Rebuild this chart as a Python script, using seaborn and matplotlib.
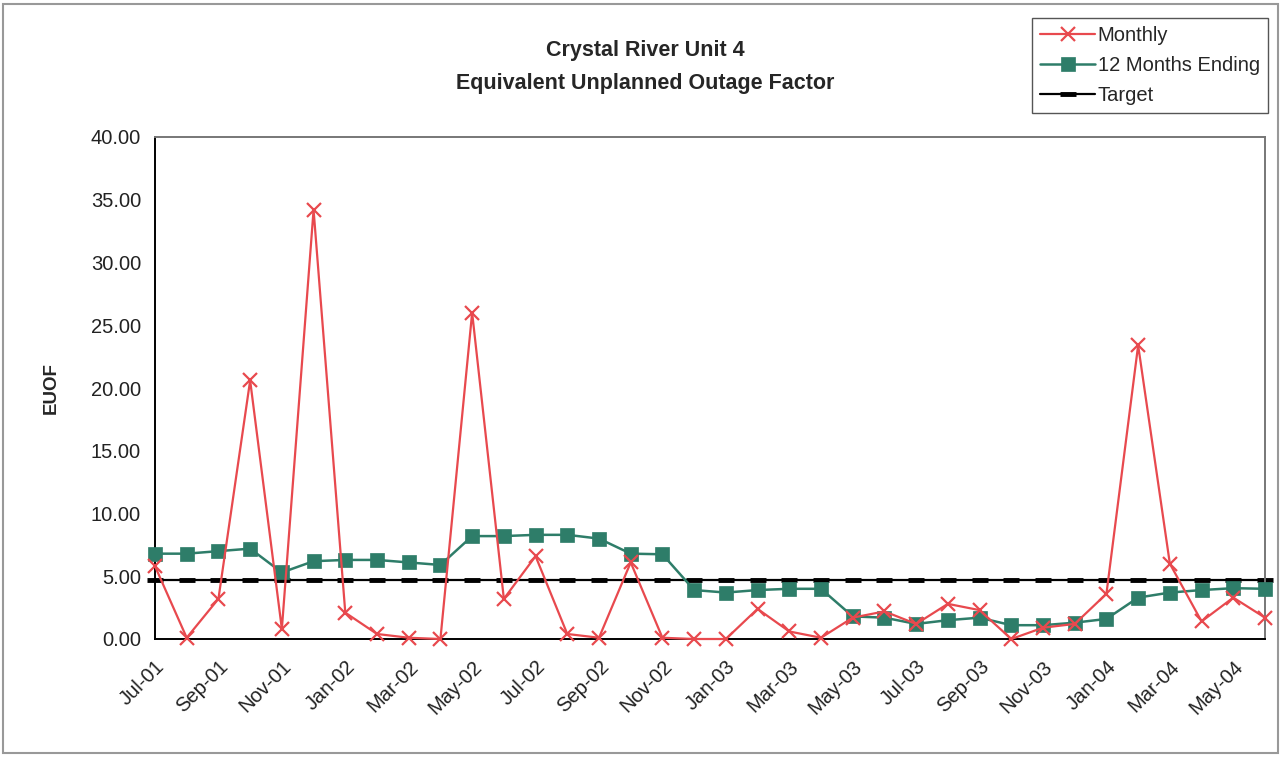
import pandas as pd
import seaborn as sns
import matplotlib.pyplot as plt
from matplotlib.patches import Rectangle
from matplotlib.ticker import FormatStrFormatter

months = ['Jul-01', 'Aug-01', 'Sep-01', 'Oct-01', 'Nov-01', 'Dec-01',
          'Jan-02', 'Feb-02', 'Mar-02', 'Apr-02', 'May-02', 'Jun-02',
          'Jul-02', 'Aug-02', 'Sep-02', 'Oct-02', 'Nov-02', 'Dec-02',
          'Jan-03', 'Feb-03', 'Mar-03', 'Apr-03', 'May-03', 'Jun-03',
          'Jul-03', 'Aug-03', 'Sep-03', 'Oct-03', 'Nov-03', 'Dec-03',
          'Jan-04', 'Feb-04', 'Mar-04', 'Apr-04', 'May-04', 'Jun-04']

monthly = [5.8, 0.1, 3.2, 20.6, 0.8, 34.2, 2.1, 0.4, 0.1, 0.0, 26.0, 3.2,
           6.6, 0.4, 0.1, 6.1, 0.1, 0.0, 0.0, 2.4, 0.6, 0.1, 1.7, 2.2,
           1.2, 2.8, 2.3, 0.0, 0.9, 1.2, 3.6, 23.4, 6.0, 1.4, 3.3, 1.7]

twelve_month = [6.8, 6.8, 7.0, 7.2, 5.3, 6.2, 6.3, 6.3, 6.1, 5.9, 8.2, 8.2,
                8.3, 8.3, 8.0, 6.8, 6.75, 3.9, 3.7, 3.9, 4.0, 4.0, 1.8, 1.7,
                1.2, 1.5, 1.7, 1.1, 1.1, 1.3, 1.6, 3.3, 3.7, 3.9, 4.05, 4.0]

target = [4.70] * len(months)

RED = '#E8494E'
GREEN = '#2E7D69'
FONTSIZE = 14.5

sns.set_style("white")
plt.rcParams['font.family'] = ['Liberation Sans', 'DejaVu Sans']

df = pd.DataFrame({'idx': range(len(months)), 'month': months,
                   'Monthly': monthly, '12 Months Ending': twelve_month,
                   'Target': target})

fig = plt.figure(figsize=(12.81, 7.58), dpi=100)
ax = fig.add_axes([155 / 1281, 1 - 639 / 758, 1110 / 1281, 502 / 758])

sns.lineplot(data=df, x='idx', y='Target', ax=ax, color='black', lw=1.6,
             marker='_', markersize=11, markeredgewidth=3.5,
             markeredgecolor='black', label='Target', zorder=2, clip_on=False)
sns.lineplot(data=df, x='idx', y='12 Months Ending', ax=ax, color=GREEN, lw=1.8,
             marker='s', markersize=10, markeredgewidth=0.5,
             markeredgecolor=GREEN, label='12 Months Ending', zorder=3,
             clip_on=False)
sns.lineplot(data=df, x='idx', y='Monthly', ax=ax, color=RED, lw=1.6,
             marker='x', markersize=10, markeredgewidth=1.6,
             markeredgecolor=RED, label='Monthly', zorder=4, clip_on=False)

ax.set_xlim(0, len(months) - 1)
ax.set_ylim(0, 40)
ax.set_yticks(range(0, 41, 5))
ax.yaxis.set_major_formatter(FormatStrFormatter('%.2f'))
ax.set_xticks(df['idx'][::2])
ax.set_xticklabels(df['month'][::2], rotation=45, ha='right',
                   rotation_mode='anchor')
ax.tick_params(axis='both', direction='inout', length=8, width=1,
               labelsize=FONTSIZE, colors='#222222')
ax.tick_params(axis='x', pad=9)
ax.tick_params(axis='y', pad=6)

ax.set_xlabel('')
ax.set_ylabel('EUOF', fontsize=13.5, fontweight='bold')
ax.yaxis.set_label_coords(-0.086, 0.5)

for side in ['left', 'bottom']:
    ax.spines[side].set_color('black')
    ax.spines[side].set_linewidth(1.4)
for side in ['top', 'right']:
    ax.spines[side].set_visible(True)
    ax.spines[side].set_color('#777777')
    ax.spines[side].set_linewidth(1.4)

handles, labels = ax.get_legend_handles_labels()
order = [labels.index(l) for l in ['Monthly', '12 Months Ending', 'Target']]
leg = ax.legend([handles[i] for i in order], [labels[i] for i in order],
                loc='upper right', bbox_to_anchor=(1268 / 1281, 1 - 18 / 758),
                bbox_transform=fig.transFigure, fontsize=FONTSIZE,
                frameon=True, fancybox=False, framealpha=1, edgecolor='#555555',
                handlelength=2.7, handletextpad=0.15, borderpad=0.4,
                labelspacing=0.55, borderaxespad=0)
leg.get_frame().set_linewidth(1.0)

fig.text(645 / 1281, 1 - 67 / 758,
         'Crystal River Unit 4\nEquivalent Unplanned Outage Factor',
         ha='center', va='center', fontsize=15.5, fontweight='bold',
         linespacing=1.75)

fig.patches.append(Rectangle((0.002, 0.006), 0.996, 0.989,
                             transform=fig.transFigure, fill=False,
                             edgecolor='#999999', linewidth=1.5))

fig.savefig('out.png', dpi=100)
